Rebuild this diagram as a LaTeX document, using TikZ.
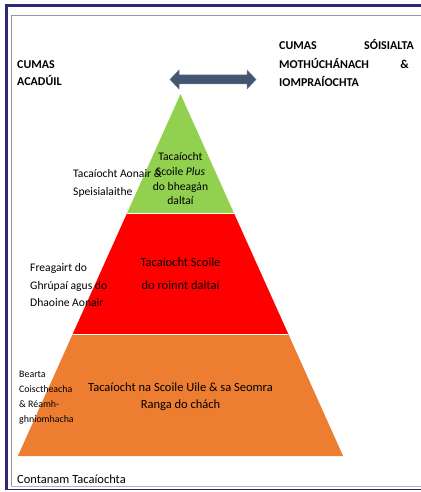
\documentclass[tikz,border=0pt]{standalone}
\usepackage{fontspec}
\setmainfont{Carlito}
\definecolor{navy}{HTML}{2E2878}
\definecolor{tgreen}{HTML}{92D050}
\definecolor{tred}{HTML}{FF0000}
\definecolor{torange}{HTML}{ED7D31}
\definecolor{arrowc}{HTML}{435570}
\definecolor{arrowe}{HTML}{6A7D96}
\begin{document}
\begin{tikzpicture}[x=1pt,y=-1pt,
  lbl/.style={inner sep=0pt,font=\fontsize{11.6}{13}\selectfont},
  big/.style={inner sep=0pt,font=\fontsize{12.5}{14}\selectfont},
  capstext/.style={inner sep=0pt,font=\bfseries\fontsize{12}{14}\selectfont},
  small/.style={inner sep=0pt,font=\fontsize{9.9}{11}\selectfont},
  tier/.style={draw=white,line width=0.8pt}]
\useasboundingbox (0,0) rectangle (420,492);
% frames
\draw[navy,line width=3pt] (6,489) -- (6,5.5) -- (421,5.5);
\draw[navy,line width=1.4pt] (5,489.5) -- (421,489.5);
\draw[gray!80,line width=1pt] (11.5,486) -- (11.5,15.5) -- (421,15.5);
\draw[gray!60,line width=0.8pt] (11,486.5) -- (421,486.5);
% pyramid
\coordinate (apex) at (180.5,94);
\coordinate (g1) at (127.1,213);
\coordinate (g2) at (233.9,213);
\coordinate (r1) at (72.7,334);
\coordinate (r2) at (288.3,334);
\coordinate (o1) at (17.9,456);
\coordinate (o2) at (343.1,456);
\fill[torange] (r1) -- (r2) -- (o2) -- (o1) -- cycle;
\fill[tred] (g1) -- (g2) -- (r2) -- (r1) -- cycle;
\fill[tgreen] (apex) -- (g2) -- (g1) -- cycle;
\draw[tier] (g1) -- (g2);
\draw[tier] (r1) -- (r2);
% arrow
\fill[arrowc,draw=arrowe,line width=0.5pt] (170,79.5) -- (179,70) -- (179,75) -- (247,75) -- (247,70) -- (256,79.5) -- (247,89) -- (247,84) -- (179,84) -- (179,89) -- cycle;
% headings
\node[capstext,anchor=base west] (c1) at (17,69) {CUMAS};
\node[capstext,anchor=base west] (c2) at (17,86) {ACADÚIL};
\node[capstext,anchor=base west] (s1) at (279,50) {CUMAS};
\node[capstext,anchor=base east] (s2) at (414,50) {SÓISIALTA};
\node[capstext,anchor=base west] (s3) at (279,68.5) {MOTHÚCHÁNACH};
\node[capstext,anchor=base east] (s4) at (409,68.5) {\&};
\node[capstext,anchor=base west] (s5) at (279,87) {IOMPRAÍOCHTA};
% green tier
\node[lbl,anchor=base] (gt1) at (180.5,160.7) {Tacaíocht};
\node[lbl,anchor=base] (gt2) at (180.5,175.7) {Scoile \textit{Plus}};
\node[lbl,anchor=base] (gt3) at (180.5,190.7) {do bheagán};
\node[lbl,anchor=base] (gt4) at (180.5,204.5) {daltaí};
\node[lbl,anchor=base west] (gl1) at (73,177.3) {Tacaíocht Aonair \&};
\node[lbl,anchor=base west] (gl2) at (73,195) {Speisialaithe};
% red tier
\node[big,anchor=base] (rt1) at (180.5,266.7) {Tacaíocht Scoile};
\node[big,anchor=base] (rt2) at (180.5,289.3) {do roinnt daltaí};
\node[lbl,anchor=base west] (rl1) at (30,271.7) {Freagairt do};
\node[lbl,anchor=base west] (rl2) at (30,289.3) {Ghrúpaí agus do};
\node[lbl,anchor=base west] (rl3) at (30,306.7) {Dhaoine Aonair};
% orange tier
\node[big,anchor=base] (ot1) at (180.5,391) {Tacaíocht na Scoile Uile \& sa Seomra};
\node[big,anchor=base] (ot2) at (180.5,408) {Ranga do chách};
\node[small,anchor=base west] (ol1) at (19,377.3) {Bearta};
\node[small,anchor=base west] (ol2) at (19,392.7) {Coisctheacha};
\node[small,anchor=base west] (ol3) at (19,407.7) {\& Réamh-};
\node[small,anchor=base west] (ol4) at (19,422.3) {ghniomhacha};
% footer
\node[big,anchor=base west] (foot) at (17,483.3) {Contanam Tacaíochta};
\end{tikzpicture}
\end{document}
